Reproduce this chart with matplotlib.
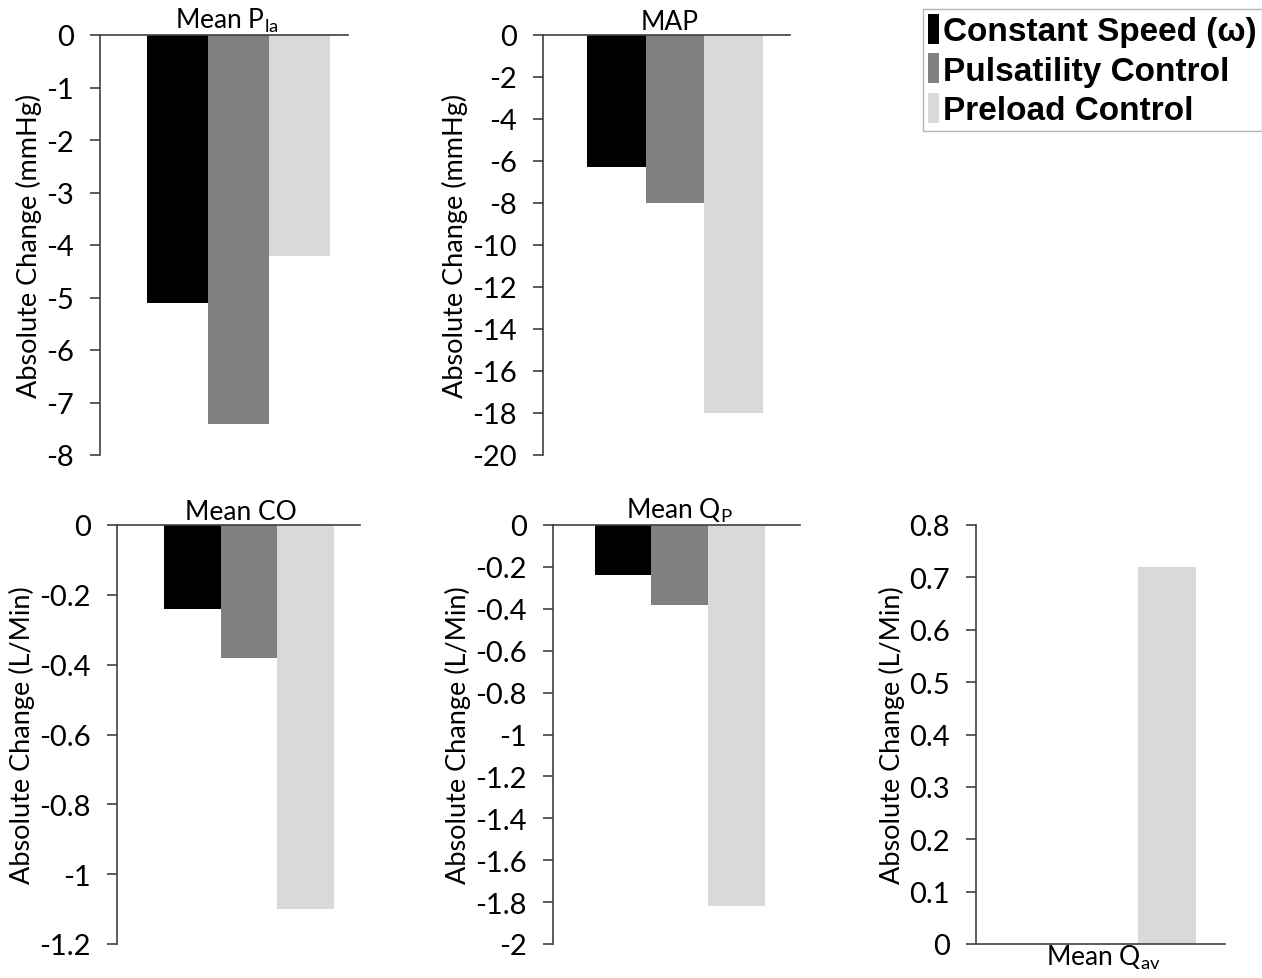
import numpy as np
import matplotlib
matplotlib.use('Agg')
import matplotlib.pyplot as plt
from matplotlib.patches import Patch

plt.rcParams['font.family'] = ['Lato', 'DejaVu Sans']
plt.rcParams['axes.unicode_minus'] = False

series = ['Constant Speed (\u03c9)', 'Pulsatility Control', 'Preload Control']
colors = ['#000000', '#808080', '#d9d9d9']

# values
pla = [-5.1, -7.4, -4.2]
map_vals = [-6.3, -8.0, -18.0]
co = [-0.24, -0.38, -1.10]
qp = [-0.24, -0.38, -1.82]
qav = [0.0, 0.0, 0.72]

titles = ['Mean P$_{\\mathregular{la}}$', 'MAP', 'Mean CO',
          'Mean Q$_{\\mathregular{P}}$', 'Mean Q$_{\\mathregular{av}}$']
ylabels = ['Absolute Change (mmHg)', 'Absolute Change (mmHg)',
           'Absolute Change (L/Min)', 'Absolute Change (L/Min)',
           'Absolute Change (L/Min)']
yticks = [np.arange(0, -8.5, -1), np.arange(0, -20.5, -2),
          np.arange(0, -1.25, -0.2), np.arange(0, -2.05, -0.2),
          np.arange(0, 0.85, 0.1)]
ylims = [(-8, 0), (-20, 0), (-1.2, 0), (-2, 0), (0, 0.8)]
data = [pla, map_vals, co, qp, qav]

W, H = 1262, 979
boxes = [(100, 348, 36, 456), (543, 790, 36, 456),
         (117, 360, 526, 945), (553, 800, 526, 945),
         (976, 1225, 526, 945)]
xlims = [(-2.28, 1.8), (-2.26, 1.97), (-2.33, 1.96), (-2.23, 2.11), (-2.29, 2.0)]

fig = plt.figure(figsize=(W / 100, H / 100), dpi=100)
axcol = '#404040'
x = np.array([-1, 0, 1])

for i in range(5):
    l, r, t, b = boxes[i]
    ax = fig.add_axes([l / W, (H - b) / H, (r - l) / W, (b - t) / H])
    vals = data[i]
    for j in range(3):
        if vals[j] != 0:
            ax.bar(x[j], vals[j], width=1.0, color=colors[j], edgecolor='none')
    ax.set_xlim(*xlims[i])
    ax.set_ylim(*ylims[i])
    ax.set_yticks(yticks[i])
    ax.set_yticklabels(['%g' % round(v, 2) if abs(v) > 1e-9 else '0' for v in yticks[i]])
    ax.tick_params(axis='y', direction='out', length=7, width=1.2, color=axcol,
                   labelsize=21, pad=12)
    ax.set_ylabel(ylabels[i], fontsize=19.5, labelpad=3)
    ax.spines['right'].set_visible(False)
    ax.spines['left'].set_color(axcol)
    ax.spines['left'].set_linewidth(1.2)
    ax.set_xticks([sum(xlims[i]) / 2 + 0.05])
    ax.set_xticklabels([titles[i]], fontsize=19)
    if ylims[i][1] == 0:
        ax.spines['bottom'].set_visible(False)
        ax.spines['top'].set_color(axcol)
        ax.spines['top'].set_linewidth(1.2)
        ax.xaxis.tick_top()
        ax.tick_params(axis='x', length=0, pad=1)
    else:
        ax.spines['top'].set_visible(False)
        ax.spines['bottom'].set_color(axcol)
        ax.spines['bottom'].set_linewidth(1.2)
        ax.tick_params(axis='x', length=0, pad=-1)

handles = [Patch(facecolor=c, edgecolor='none') for c in colors]
leg = fig.legend(handles, series, loc='upper right', bbox_to_anchor=(1.0, 1 - 10 / H),
                 prop={'family': 'Liberation Sans', 'weight': 'bold', 'size': 24},
                 handlelength=0.33, handleheight=1.0, handletextpad=0.12,
                 labelspacing=0.18, borderpad=0.15, borderaxespad=0.0,
                 frameon=True, fancybox=False)
leg.get_frame().set_edgecolor('#a0a0a0')
leg.get_frame().set_linewidth(1.0)

fig.savefig('out.png', dpi=100)
